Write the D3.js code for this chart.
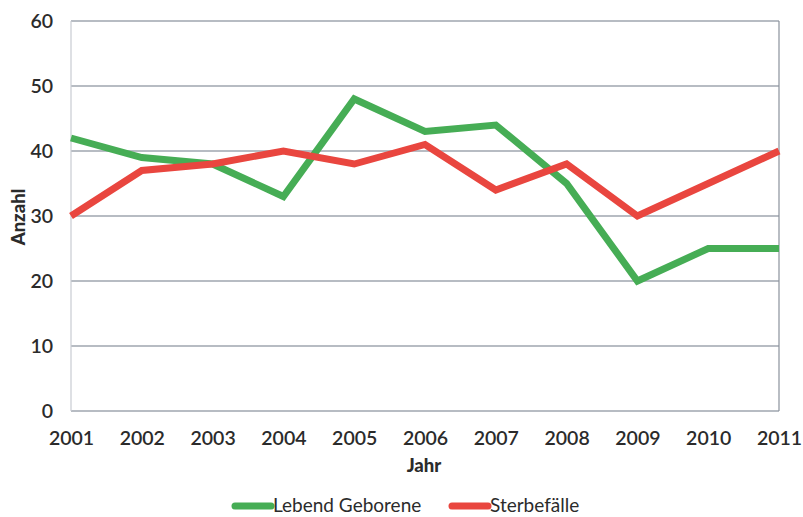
<!DOCTYPE html>
<html>
<head>
<meta charset="utf-8">
<script src="https://cdn.jsdelivr.net/npm/d3@7"></script>
<style>
  html, body { margin: 0; padding: 0; background: #fff; }
  svg text { font-family: Lato, "Open Sans", sans-serif; fill: #2b2b2b; }
</style>
</head>
<body>
<svg id="chart" width="803" height="517"></svg>
<script>
// Jahre und Werte
const years = [2001, 2002, 2003, 2004, 2005, 2006, 2007, 2008, 2009, 2010, 2011];
const geborene = [42, 39, 38, 33, 48, 43, 44, 35, 20, 25, 25];
const sterbefaelle = [30, 37, 38, 40, 38, 41, 34, 38, 30, 35, 40];
const yTicks = [0, 10, 20, 30, 40, 50, 60];
const seriesNames = ["Lebend Geborene", "Sterbefälle"];
const seriesColors = ["#46ad55", "#e9463f"];

const svg = d3.select("#chart");
const margin = { left: 71, right: 24, top: 21, bottom: 106 };
const W = 803, H = 517;

const x = d3.scalePoint().domain(years).range([margin.left, W - margin.right]);
const y = d3.scaleLinear().domain([0, 60]).range([H - margin.bottom, margin.top]);

// Gitterlinien
svg.append("g")
  .selectAll("line")
  .data(yTicks)
  .join("line")
  .attr("x1", margin.left).attr("x2", W - margin.right)
  .attr("y1", d => y(d)).attr("y2", d => y(d))
  .attr("stroke", "#7f8894").attr("stroke-width", 1.3).attr("opacity", 0.75);

// linke und rechte Begrenzung
svg.append("line")
  .attr("x1", margin.left).attr("x2", margin.left)
  .attr("y1", y(60)).attr("y2", y(0))
  .attr("stroke", "#c8ccd2").attr("stroke-width", 1.2);
svg.append("line")
  .attr("x1", W - margin.right).attr("x2", W - margin.right)
  .attr("y1", y(60)).attr("y2", y(0))
  .attr("stroke", "#8a929c").attr("stroke-width", 1.2);

const tickFont = sel => sel
  .style("font-size", "19.5px").style("font-weight", "600")
  .style("font-family", "Lato, sans-serif").attr("fill", "#2e2e2e");

// Y-Achse
const yAxis = svg.append("g")
  .attr("transform", `translate(${margin.left},0)`)
  .call(d3.axisLeft(y).tickValues(yTicks).tickSize(0).tickPadding(18));
yAxis.select(".domain").remove();
yAxis.selectAll("text").call(tickFont);

// X-Achse
const xAxis = svg.append("g")
  .attr("transform", `translate(0,${y(0)})`)
  .call(d3.axisBottom(x).tickFormat(d3.format("d")).tickSize(0).tickPadding(20));
xAxis.select(".domain").remove();
xAxis.selectAll("text").call(tickFont);

// Achsentitel
svg.append("text")
  .attr("transform", `translate(25,${(y(0) + y(60)) / 2 + 1}) rotate(-90)`)
  .attr("text-anchor", "middle")
  .style("font-size", "18.5px").style("font-weight", "900")
  .text("Anzahl");
svg.append("text")
  .attr("x", 424)
  .attr("y", 472)
  .attr("text-anchor", "middle")
  .style("font-size", "18.5px").style("font-weight", "900")
  .text("Jahr");

// Linien
const line = d3.line().x((d, i) => x(years[i])).y(d => y(d));
[geborene, sterbefaelle].forEach((vals, k) => {
  svg.append("path")
    .datum(vals)
    .attr("d", line)
    .attr("fill", "none")
    .attr("stroke", seriesColors[k])
    .attr("stroke-width", 7)
    .attr("stroke-linejoin", "miter")
    .attr("stroke-linecap", "butt");
});

// Legende
const legendX = [233, 450];
const legend = svg.append("g");
seriesNames.forEach((name, k) => {
  const g = legend.append("g").attr("transform", `translate(${legendX[k]},506)`);
  g.append("line")
    .attr("x1", 2).attr("x2", 38).attr("y1", 0).attr("y2", 0)
    .attr("stroke", seriesColors[k]).attr("stroke-width", 7).attr("stroke-linecap", "round");
  g.append("text")
    .attr("x", 40).attr("y", 6)
    .style("font-size", "19px").style("font-weight", "400")
    .text(name);
});
</script>
</body>
</html>
